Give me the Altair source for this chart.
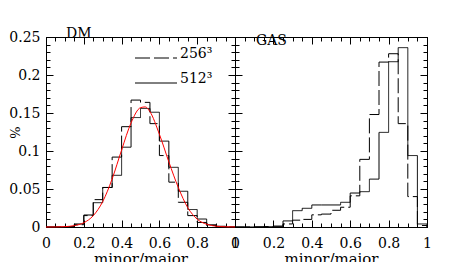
import altair as alt
import pandas as pd

FONT = "DejaVu Serif"

# bin edges (width 0.05)
edges = [0.00, 0.05, 0.10, 0.15, 0.20, 0.25, 0.30, 0.35, 0.40, 0.45,
         0.50, 0.55, 0.60, 0.65, 0.70, 0.75, 0.80, 0.85, 0.90, 0.95, 1.00]

series_labels = ["256³", "512³"]

# DM histograms (fraction per bin)
dm_256 = [0, 0, 0.0005, 0.003, 0.015, 0.036, 0.052, 0.092, 0.132, 0.167,
          0.164, 0.136, 0.094, 0.059, 0.0325, 0.015, 0.006, 0.002, 0, 0]
dm_512 = [0, 0, 0.0005, 0.004, 0.0158, 0.032, 0.052, 0.068, 0.105, 0.144,
          0.156, 0.151, 0.113, 0.0785, 0.047, 0.023, 0.0105, 0.003, 0.001, 0]

# GAS histograms
gas_256 = [0, 0, 0, 0.0005, 0.001, 0.004, 0.009, 0.010, 0.016, 0.017,
           0.022, 0.026, 0.041, 0.089, 0.148, 0.217, 0.228, 0.136, 0.040, 0.002]
gas_512 = [0, 0, 0.0005, 0.0005, 0.001, 0.008, 0.0215, 0.0246, 0.029, 0.029,
           0.029, 0.0325, 0.0447, 0.0465, 0.063, 0.1245, 0.2175, 0.236, 0.094, 0.004]

# red fitted curve on DM panel
fit_x = [0.00, 0.05, 0.10, 0.15, 0.20, 0.25, 0.30, 0.35, 0.40, 0.45, 0.50,
         0.525, 0.55, 0.60, 0.65, 0.70, 0.75, 0.80, 0.85, 0.90, 0.95, 1.00]
fit_y = [0.0, 0.0001, 0.0005, 0.0018, 0.0056, 0.0149, 0.0334, 0.0633, 0.1013,
         0.137, 0.157, 0.158, 0.1517, 0.122, 0.0857, 0.052, 0.0255, 0.0103,
         0.0036, 0.0011, 0.0003, 0.0001]

x_major = [0, 0.2, 0.4, 0.6, 0.8, 1]
y_major = [0, 0.05, 0.1, 0.15, 0.2, 0.25]
y_minor = [0, 0.01, 0.02, 0.03, 0.04, 0.05, 0.06, 0.07, 0.08, 0.09, 0.10,
           0.11, 0.12, 0.13, 0.14, 0.15, 0.16, 0.17, 0.18, 0.19, 0.20,
           0.21, 0.22, 0.23, 0.24, 0.25]

H = 190
W_LEFT = 189
W_RIGHT = 192


def hist_df(v256, v512):
    rows = []
    for lab, vals in zip(series_labels, [v256, v512]):
        for e, v in zip(edges[:-1], vals):
            rows.append({"x": e, "y": v, "res": lab})
        rows.append({"x": edges[-1], "y": 0.0, "res": lab})
    return pd.DataFrame(rows)


fit_df = pd.DataFrame({"x": fit_x, "y": fit_y})


def tick_ax(orient, offset, values, size):
    return alt.Axis(orient=orient, offset=offset, values=values, tickSize=size,
                    labels=False, domain=False, grid=False, ticks=True,
                    title=None, tickColor="black", tickWidth=1)


def panel(df, W, name, name_dx, left_labels, with_legend, fit=None):
    xsc = alt.Scale(domain=[0, 1], nice=False, zero=False)
    ysc = alt.Scale(domain=[0, 0.25], nice=False, zero=False)
    xlab = alt.Axis(orient="bottom", values=x_major, format="~g", ticks=False,
                    domain=False, grid=False, labelPadding=9, labelFlush=False,
                    title="minor/major", titlePadding=1)
    if left_labels:
        ylab = alt.Axis(orient="left", values=y_major, format="~g", ticks=False,
                        domain=False, grid=False, labelPadding=6, labelFlush=False,
                        title="%", titleX=-31, titleY=H / 2, titleAngle=270,
                        titleAlign="center", titleBaseline="middle",
                        titleFontSize=13)
    else:
        ylab = None
    if with_legend:
        leg = alt.Legend(orient="none", legendX=87, legendY=14, title=None,
                         symbolType="M-1,0H7.4", symbolSize=100,
                         symbolStrokeWidth=1, symbolStrokeColor="black",
                         symbolFillColor="transparent",
                         labelFont=FONT, labelFontSize=14, labelColor="black",
                         labelBaseline="alphabetic", labelOffset=33,
                         rowPadding=11, padding=0)
    else:
        leg = None
    dash = alt.StrokeDash("res:N",
                          scale=alt.Scale(domain=series_labels,
                                          range=[[15, 4], [1, 0]]),
                          legend=leg)
    hist = alt.Chart(df).mark_line(interpolate="step-after", color="black",
                                   strokeWidth=1).encode(
        x=alt.X("x:Q", scale=xsc, axis=xlab),
        y=alt.Y("y:Q", scale=ysc, axis=ylab),
        strokeDash=dash,
    )
    layers = [hist]
    for xo, yo, xv, yv, sz in [("top", "right", x_major, y_major, 7),
                               ("top", "right", edges, y_minor, 4),
                               ("bottom", "left", x_major, y_major, 7),
                               ("bottom", "left", edges, y_minor, 4)]:
        layers.append(
            alt.Chart(df).mark_point(opacity=0).encode(
                x=alt.X("x:Q", scale=xsc, axis=tick_ax(xo, -H, xv, sz)),
                y=alt.Y("y:Q", scale=ysc, axis=tick_ax(yo, -W, yv, sz)),
            )
        )
    if fit is not None:
        layers.append(
            alt.Chart(fit).mark_line(color="red", strokeWidth=1,
                                     interpolate="monotone").encode(
                x=alt.X("x:Q", scale=xsc, axis=None),
                y=alt.Y("y:Q", scale=ysc, axis=None),
            )
        )
    return alt.layer(*layers).resolve_axis(
        x="independent", y="independent"
    ).properties(
        width=W, height=H,
        title=alt.TitleParams(text=name, anchor="start", offset=-22, dx=name_dx,
                              baseline="alphabetic", font=FONT, fontSize=14,
                              fontWeight="normal", color="black", frame="group"),
    )


left = panel(hist_df(dm_256, dm_512), W_LEFT, "DM", 20, True, True, fit_df)
right = panel(hist_df(gas_256, gas_512), W_RIGHT, "GAS", 21, False, False)

chart = alt.hconcat(left, right, spacing=0, bounds="flush").resolve_scale(
    strokeDash="independent"
).resolve_legend(
    strokeDash="independent"
).properties(
    padding={"left": 0, "top": 18, "right": 5, "bottom": 0}
).configure_view(
    stroke="black", strokeWidth=1
).configure_axis(
    labelFont=FONT, titleFont=FONT, labelFontSize=14, titleFontSize=15,
    titleFontWeight="normal", labelColor="black", titleColor="black",
    grid=False
)

chart.save("out.html", embed_options={"renderer": "svg", "actions": False})
